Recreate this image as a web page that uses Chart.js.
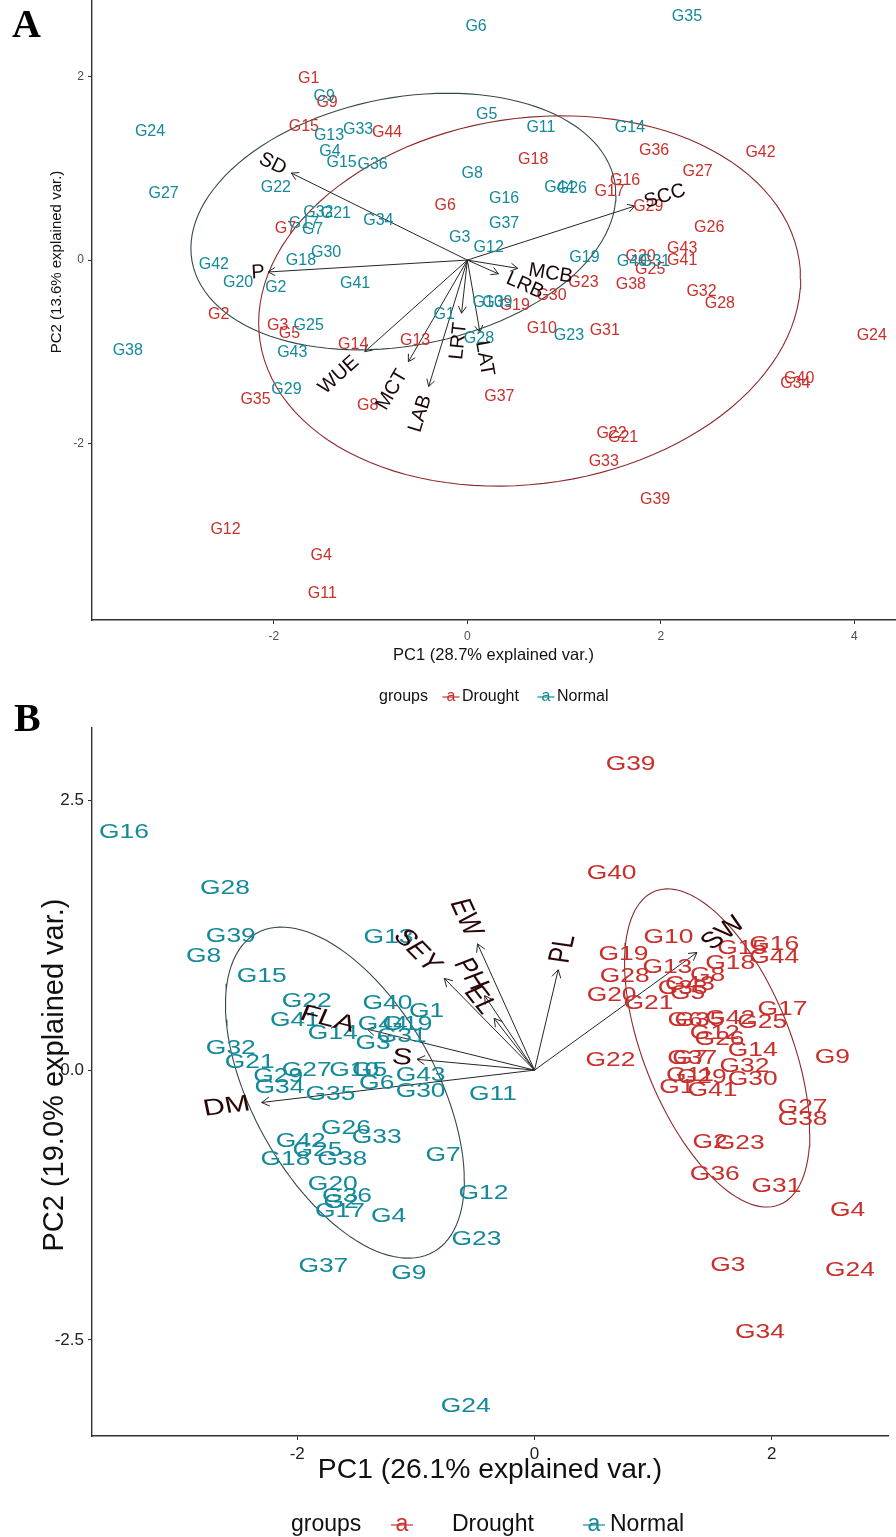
<!DOCTYPE html>
<html>
<head>
<meta charset="utf-8">
<script src="https://cdn.jsdelivr.net/npm/chart.js@4.4.1/dist/chart.umd.min.js"></script>
<style>
  body { margin: 0; background: #fff; width: 896px; height: 1537px; position: relative; overflow: hidden; }
  .tag { position: absolute; font: bold 40px "Liberation Serif", "Times New Roman", serif; color: #000; }
  .wrap { position: absolute; left: 0; width: 896px; }
</style>
</head>
<body>
<div class="wrap" style="top:-20px;height:740px"><canvas id="chartA"></canvas></div>
<div class="wrap" style="top:685px;height:852px"><canvas id="chartB"></canvas></div>
<div class="tag" style="left:12px;top:0px">A</div>
<div class="tag" style="left:14px;top:694px">B</div>
<script>
// ---------- panel A data ----------
const aDroughtNames = ['G1','G2','G3','G4','G5','G6','G7','G8','G9','G10','G11','G12','G13','G14','G15','G16','G17','G18','G19','G20','G21','G22','G23','G24','G25','G26','G27','G28','G29','G30','G31','G32','G33','G34','G35','G36','G37','G38','G39','G40','G41','G42','G43','G44'];
const aDroughtPC1 = [-1.64,-2.57,-1.96,-1.51,-1.84,-0.23,-1.88,-1.03,-1.45,0.77,-1.50,-2.50,-0.54,-1.18,-1.69,1.63,1.47,0.68,0.49,1.79,1.61,1.49,1.20,4.18,1.89,2.50,2.38,2.61,1.87,0.87,1.42,2.42,1.41,3.39,-2.19,1.93,0.33,1.69,1.94,3.43,2.22,3.03,2.22,-0.83];
const aDroughtPC2 = [1.98,-0.60,-0.72,-3.23,-0.80,0.59,0.34,-1.59,1.72,-0.75,-3.64,-2.94,-0.88,-0.92,1.46,0.87,0.75,1.10,-0.50,0.04,-1.94,-1.89,-0.25,-0.82,-0.10,0.36,0.97,-0.47,0.58,-0.39,-0.77,-0.34,-2.20,-1.35,-1.52,1.20,-1.49,-0.27,-2.61,-1.29,-0.01,1.17,0.13,1.39];
const aNormalNames = aDroughtNames;
const aNormalPC1 = [-0.24,-1.98,-0.08,-1.42,0.20,0.09,-1.60,0.05,-1.48,0.21,0.76,0.22,-1.43,1.68,-1.30,0.38,-1.69,-1.72,1.21,-2.37,-1.36,-1.98,1.05,-3.28,-1.64,1.08,-3.14,0.12,-1.87,-1.46,1.94,-1.54,-1.13,-0.92,2.27,-0.98,0.38,-3.51,0.31,1.70,-1.16,-2.62,-1.81,0.95];
const aNormalPC2 = [-0.59,-0.30,0.25,1.19,1.59,2.55,0.33,0.94,1.78,-0.46,1.45,0.14,1.36,1.45,1.07,0.67,0.40,-0.01,0.03,-0.25,0.51,0.79,-0.82,1.40,-0.72,0.78,0.73,-0.86,-1.41,0.08,-0.02,0.52,1.43,0.43,2.66,1.04,0.40,-0.99,-0.46,-0.02,-0.26,-0.05,-1.01,0.79];
const aVarNames = ['SD','P','SCC','MCB','LRB','WUE','MCT','LAB','LRT','LAT'];
const aVarPC1 = [-1.82,-2.06,1.73,0.52,0.32,-1.06,-0.61,-0.40,-0.06,0.13];
const aVarPC2 = [0.95,-0.13,0.59,-0.09,-0.15,-1.00,-1.11,-1.38,-0.58,-0.79];
const aTicksX = [-2, 0, 2, 4];
const aTicksY = [-2, 0, 2];

// ---------- panel B data ----------
const bDroughtNames = aDroughtNames;
const bDroughtPC1 = [1.20,1.48,1.63,2.64,1.29,1.27,1.31,1.46,2.51,1.13,1.31,1.52,1.12,1.84,1.75,2.02,2.09,1.65,0.75,0.65,0.96,0.64,1.73,2.66,1.92,1.56,2.26,0.76,1.41,1.84,2.04,1.77,1.25,1.90,1.39,1.52,1.33,2.26,0.81,0.65,1.50,1.65,1.31,2.02];
const bDroughtPC2 = [-0.16,-0.67,-1.81,-1.30,0.71,0.46,0.11,0.88,0.12,1.23,-0.05,0.34,0.95,0.18,1.13,1.16,0.56,0.99,1.07,0.69,0.62,0.09,-0.68,-1.86,0.44,0.28,-0.35,0.87,-0.07,-0.09,-1.08,0.03,0.76,-2.43,0.46,-0.97,0.11,-0.46,2.83,1.82,-0.19,0.48,0.79,1.04];
const bNormalNames = aDroughtNames;
const bNormalPC1 = [-0.91,-1.63,-1.36,-1.23,-1.39,-1.33,-0.77,-2.79,-1.06,-1.52,-0.35,-0.43,-1.23,-1.70,-2.30,-3.46,-1.64,-2.10,-1.07,-1.70,-2.40,-1.92,-0.49,-0.58,-1.83,-1.59,-1.92,-2.61,-2.16,-0.96,-1.12,-2.56,-1.33,-2.15,-1.72,-1.58,-1.78,-1.62,-2.56,-1.24,-2.02,-1.97,-0.96,-1.28];
const bNormalPC2 = [0.54,-1.23,0.25,-1.36,0.00,-0.12,-0.79,1.05,-1.88,0.00,-0.23,-1.14,1.23,0.34,0.87,2.20,-1.31,-0.83,0.42,-1.06,0.07,0.64,-1.57,-3.12,-0.74,-0.54,0.00,1.68,-0.06,-0.20,0.31,0.20,-0.62,-0.16,-0.23,-1.17,-1.82,-0.83,1.24,0.62,0.46,-0.66,-0.05,0.42];
const bVarNames = ['EW','SEY','PH','EL','PL','SW','FLA','S','DM'];
const bVarPC1 = [-0.48,-0.76,-0.42,-0.34,0.20,1.37,-1.41,-0.99,-2.30];
const bVarPC2 = [1.17,0.85,0.69,0.48,0.93,1.09,0.38,0.10,-0.30];
const bTicksX = [-2, 0, 2];
const bTicksY = [-2.5, 0, 2.5];

const FONT = '"Liberation Sans", Arial, sans-serif';
const RED = '#c9302c';
const TEAL = '#14899a';

// normal-probability ellipse as ggbiplot draws it (prob 0.68)
function ellipse(xs, ys) {
  const n = xs.length;
  const mx = xs.reduce((a, b) => a + b, 0) / n;
  const my = ys.reduce((a, b) => a + b, 0) / n;
  let sxx = 0, syy = 0, sxy = 0;
  for (let i = 0; i < n; i++) {
    sxx += (xs[i] - mx) ** 2; syy += (ys[i] - my) ** 2; sxy += (xs[i] - mx) * (ys[i] - my);
  }
  sxx /= n - 1; syy /= n - 1; sxy /= n - 1;
  const a = Math.sqrt(sxx), b = sxy / a, c = Math.sqrt(syy - b * b);
  const r = Math.sqrt(-2 * Math.log(1 - 0.68));
  const pts = [];
  for (let k = 0; k <= 120; k++) {
    const t = 2 * Math.PI * k / 120;
    pts.push({ x: mx + r * a * Math.cos(t), y: my + r * (b * Math.cos(t) + c * Math.sin(t)) });
  }
  return pts;
}

function groupSet(names, xs, ys, color) {
  return { data: xs.map((x, i) => ({ x: x, y: ys[i] })), names: names, textColor: color, pointRadius: 0, showLine: false };
}

function arrowSets(names, xs, ys) {
  return names.map((n, i) => ({
    data: [{ x: 0, y: 0 }, { x: xs[i], y: ys[i] }], varName: n,
    showLine: true, borderColor: '#262626', borderWidth: 1, pointRadius: 0
  }));
}

function ellipseSet(pts, color) {
  return { data: pts, showLine: true, borderColor: color, borderWidth: 1.1, pointRadius: 0, tension: 0 };
}

function drawText(ctx, txt, x, y, s, align) {
  ctx.save();
  ctx.translate(x, y);
  ctx.scale(s, 1);
  ctx.textAlign = align || 'center';
  ctx.fillText(txt, 0, 0);
  ctx.restore();
}

const biplotText = {
  id: 'biplotText',
  afterDatasetsDraw(chart, args, o) {
    const ctx = chart.ctx;
    const s = o.stretch;
    // arrow heads
    chart.data.datasets.forEach((ds, i) => {
      if (!ds.varName) return;
      const m = chart.getDatasetMeta(i).data;
      const ang = Math.atan2(m[1].y - m[0].y, m[1].x - m[0].x);
      ctx.save();
      ctx.strokeStyle = ds.borderColor;
      ctx.lineWidth = 1;
      ctx.beginPath();
      [-1, 1].forEach(sg => {
        ctx.moveTo(m[1].x, m[1].y);
        ctx.lineTo(m[1].x - o.head * Math.cos(ang + sg * Math.PI / 6), m[1].y - o.head * Math.sin(ang + sg * Math.PI / 6));
      });
      ctx.stroke();
      ctx.restore();
    });
    // genotype labels
    ctx.save();
    ctx.font = o.labelSize + 'px ' + FONT;
    ctx.textBaseline = 'middle';
    chart.data.datasets.forEach((ds, i) => {
      if (!ds.names) return;
      ctx.fillStyle = ds.textColor;
      chart.getDatasetMeta(i).data.forEach((p, j) => drawText(ctx, ds.names[j], p.x, p.y, s));
    });
    ctx.restore();
    // variable names
    ctx.save();
    ctx.font = o.varSize + 'px ' + FONT;
    ctx.textBaseline = 'middle';
    ctx.fillStyle = o.varColor;
    chart.data.datasets.forEach((ds, i) => {
      if (!ds.varName) return;
      const m = chart.getDatasetMeta(i).data;
      const dx = (m[1].x - m[0].x) / s, dy = m[1].y - m[0].y;
      let rot = Math.atan2(dy, dx);
      if (dx < 0) rot += Math.PI;
      const w = ctx.measureText(ds.varName).width;
      const hj = dx >= 0 ? -0.25 : 1.25;
      ctx.save();
      ctx.translate(m[1].x, m[1].y);
      ctx.scale(s, 1);
      ctx.rotate(rot);
      ctx.textAlign = 'left';
      ctx.fillText(ds.varName, -hj * w, 0);
      ctx.restore();
    });
    ctx.restore();
  },
  afterDraw(chart, args, o) {
    const ctx = chart.ctx;
    const area = chart.chartArea;
    ctx.save();
    ctx.fillStyle = '#111';
    ctx.textBaseline = 'middle';
    ctx.font = o.titleSize + 'px ' + FONT;
    drawText(ctx, o.xTitle, (area.left + area.right) / 2, o.xTitleY, o.titleStretch);
    ctx.save();
    ctx.font = o.yTitleSize + 'px ' + FONT;
    ctx.translate(o.yTitleX, o.yTitleY);
    ctx.rotate(-Math.PI / 2);
    ctx.textAlign = 'center';
    ctx.fillText(o.yTitle, 0, 0);
    ctx.restore();
    // legend: groups  -a- Drought  -a- Normal
    const L = o.legend;
    ctx.font = L.size + 'px ' + FONT;
    ctx.fillStyle = '#111';
    drawText(ctx, 'groups', L.x, L.y, L.stretch, 'left');
    L.items.forEach(it => {
      ctx.strokeStyle = it.color;
      ctx.lineWidth = 1.2;
      ctx.beginPath();
      ctx.moveTo(it.key - L.keyW / 2, L.y);
      ctx.lineTo(it.key + L.keyW / 2, L.y);
      ctx.stroke();
      ctx.fillStyle = it.color;
      drawText(ctx, 'a', it.key, L.y, L.stretch);
      ctx.fillStyle = '#111';
      drawText(ctx, it.text, it.textX, L.y, L.stretch, 'left');
    });
    ctx.restore();
  }
};

function axis(min, max, ticks, fmt, tickFont, tickColor, fitKey, fitVal, pad) {
  return {
    type: 'linear', min: min, max: max,
    afterBuildTicks: sc => { sc.ticks = ticks.map(v => ({ value: v })); },
    afterFit: sc => { sc[fitKey] = fitVal; },
    grid: { drawOnChartArea: false, drawTicks: true, tickLength: 4, color: '#333', tickWidth: 1 },
    border: { display: true, color: '#333', width: 1.4 },
    ticks: { font: tickFont, color: tickColor, padding: pad, maxRotation: 0, callback: fmt }
  };
}

// ---------- chart A ----------
new Chart(document.getElementById('chartA'), {
  type: 'scatter',
  data: {
    datasets: [
      ...arrowSets(aVarNames, aVarPC1, aVarPC2),
      groupSet(aDroughtNames, aDroughtPC1, aDroughtPC2, RED),
      groupSet(aNormalNames, aNormalPC1, aNormalPC2, TEAL),
      ellipseSet(ellipse(aDroughtPC1, aDroughtPC2), '#8e2a2a'),
      ellipseSet(ellipse(aNormalPC1, aNormalPC2), '#34494b')
    ]
  },
  options: {
    responsive: true, maintainAspectRatio: false, animation: false,
    layout: { padding: { top: 20, right: 1, left: 0, bottom: 0 } },
    scales: {
      x: axis(-3.88, 4.42, aTicksX, v => String(v), { family: FONT, size: 12 }, '#4d4d4d', 'height', 100, 5),
      y: axis(-3.93, 2.84, aTicksY, v => String(v), { family: FONT, size: 12 }, '#4d4d4d', 'width', 92, 4)
    },
    plugins: {
      legend: { display: false }, tooltip: { enabled: false },
      biplotText: {
        stretch: 1, head: 8, labelSize: 16, varSize: 20, varColor: '#1c0808',
        titleSize: 16.5, titleStretch: 1, xTitle: 'PC1 (28.7% explained var.)', xTitleY: 675,
        yTitleSize: 15, yTitle: 'PC2 (13.6% explained var.)', yTitleX: 57, yTitleY: 282,
        legend: { x: 379, y: 717, size: 16, stretch: 1, keyW: 17,
          items: [{ key: 451, textX: 462, text: 'Drought', color: RED }, { key: 546, textX: 557, text: 'Normal', color: TEAL }] }
      }
    }
  },
  plugins: [biplotText]
});

// ---------- chart B ----------
new Chart(document.getElementById('chartB'), {
  type: 'scatter',
  data: {
    datasets: [
      ...arrowSets(bVarNames, bVarPC1, bVarPC2),
      groupSet(bDroughtNames, bDroughtPC1, bDroughtPC2, RED),
      groupSet(bNormalNames, bNormalPC1, bNormalPC2, TEAL),
      ellipseSet(ellipse(bDroughtPC1, bDroughtPC2), '#8e2a2a'),
      ellipseSet(ellipse(bNormalPC1, bNormalPC2), '#34494b')
    ]
  },
  options: {
    responsive: true, maintainAspectRatio: false, animation: false,
    layout: { padding: { top: 43, right: 8, left: 0, bottom: 0 } },
    scales: {
      x: axis(-3.73, 2.98, bTicksX, v => String(v), { family: FONT, size: 17 }, '#222', 'height', 101, 4),
      y: axis(-3.39, 3.17, bTicksY, v => v.toFixed(1), { family: FONT, size: 17 }, '#222', 'width', 92, 4)
    },
    plugins: {
      legend: { display: false }, tooltip: { enabled: false },
      biplotText: {
        stretch: 1.32, head: 9, labelSize: 20, varSize: 23, varColor: '#2a0505',
        titleSize: 28, titleStretch: 1.01, xTitle: 'PC1 (26.1% explained var.)', xTitleY: 785,
        yTitleSize: 29, yTitle: 'PC2 (19.0% explained var.)', yTitleX: 55, yTitleY: 390,
        legend: { x: 291, y: 840, size: 23, stretch: 1, keyW: 22,
          items: [{ key: 402, textX: 452, text: 'Drought', color: RED }, { key: 594, textX: 610, text: 'Normal', color: TEAL }] }
      }
    }
  },
  plugins: [biplotText]
});
</script>
</body>
</html>
